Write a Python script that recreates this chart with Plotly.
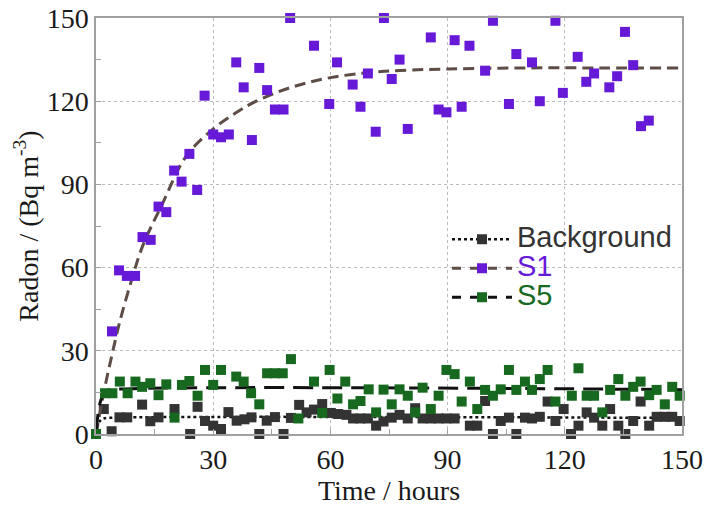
import plotly.graph_objects as go

# ---- data ----
bg_t = [0, 2.0, 4.0, 6.0, 8.0, 11.8, 13.9, 16.0, 20.1, 24.1, 26.0, 27.9, 30.0, 32.0, 33.9,
        36.0, 38.0, 39.8, 41.8, 43.7, 45.8, 48.0, 49.9, 52.0, 53.9, 55.8, 57.9, 60.1, 62.0, 64.1,
        65.8, 67.7, 69.6, 71.7, 73.6, 75.7, 77.7, 79.8, 81.7, 83.6, 85.7, 87.7, 89.7, 91.8, 95.7,
        97.6, 99.6, 101.6, 103.6, 105.7, 107.6, 109.8, 111.6, 113.6, 115.6, 117.6, 119.7, 121.6,
        123.5, 125.6, 127.5, 129.6, 131.6, 133.7, 135.5, 137.5, 139.4, 141.6, 143.5, 145.6,
        147.5, 149.4]
bg_v = [0, 9.0, 1.0, 6.0, 6.0, 10.6, 4.6, 6.0, 9.0, 0, 9.8, 4.7, 3.0, 1.8, 7.9,
        4.8, 5.3, 6.0, 0, 4.8, 6.1, 0, 5.8, 10.5, 7.8, 8.8, 10.8, 7.6, 7.2, 6.9,
        5.6, 5.6, 5.6, 3.0, 4.5, 5.9, 6.9, 5.6, 9.3, 5.6, 5.6, 5.6, 5.6, 5.6, 3.0,
        3.0, 11.9, 0, 4.7, 5.9, 0, 5.9, 5.6, 6.2, 11.7, 4.7, 9.0, 0,
        3.0, 7.8, 5.9, 3.0, 9.0, 3.0, 0, 4.7, 11.7, 3.0, 6.2, 6.2,
        6.2, 4.7]

s1_t = [4.1, 5.9, 7.9, 10.0, 11.9, 14.0, 16.0, 18.0, 20.0, 21.9, 23.9, 25.9, 27.8, 30.0, 32.0,
        34.0, 35.9, 37.8, 39.9, 41.8, 43.8, 45.8, 48.0, 49.7, 55.8, 59.7, 61.7, 65.7, 67.7, 69.6,
        71.6, 73.7, 75.7, 77.7, 79.8, 85.7, 87.7, 89.7, 91.8, 93.6, 95.6, 99.6, 101.6, 105.7,
        107.6, 111.6, 113.6, 117.6, 119.5, 123.3, 125.5, 127.5, 131.4, 133.4, 135.4, 137.5,
        139.5, 141.5]
s1_v = [37, 59, 57, 57, 71, 70, 82, 80, 95, 91, 101, 88, 122, 108, 107,
        108, 134, 125, 106, 132, 124, 117, 117, 150, 140, 119, 134, 126, 118, 130,
        109, 150, 128, 135, 110, 143, 117, 116, 142, 118, 140, 131, 149, 119,
        137, 134, 120, 149, 123, 136, 127, 130, 125, 129, 145, 133,
        111, 113]

s5_t = [0, 2.3, 4.2, 6.1, 8.1, 10.1, 11.8, 13.9, 16.0, 18.0, 20.1, 22.0, 23.9, 26.0, 27.9,
        30.0, 32.0, 35.9, 37.8, 39.7, 41.8, 43.8, 45.8, 47.8, 49.9, 51.8, 55.8, 57.9, 59.8, 61.8,
        63.8, 65.8, 67.7, 69.8, 71.7, 73.6, 75.7, 77.7, 79.8, 81.7, 83.6, 85.7, 87.7, 89.7, 91.8,
        93.6, 95.7, 97.6, 99.6, 101.6, 103.6, 105.7, 107.6, 109.8, 111.6, 113.6, 115.6, 117.6,
        121.8, 123.5, 125.6, 127.5, 129.6, 131.6, 133.7, 135.5, 137.5, 139.4, 141.6, 143.5,
        145.6, 147.5, 149.4]
s5_v = [0, 14.7, 14.7, 18.9, 14.7, 18.9, 17.0, 18.3, 14.0, 17.9, 5.9, 17.7, 19.1, 13.8, 23.1,
        17.7, 23.1, 20.7, 18.9, 14.7, 10.7, 21.9, 21.9, 21.9, 27.0, 5.6, 18.9, 7.6, 23.1, 12.8,
        18.9, 10.7, 11.9, 16.1, 7.8, 16.0, 10.7, 16.1, 13.8, 7.8, 16.7, 9.0, 13.8, 23.1, 21.6,
        11.7, 18.9, 9.0, 15.9, 13.8, 16.1, 23.1, 15.9, 18.9, 15.9, 19.8, 23.1, 11.7,
        13.8, 23.7, 13.8, 13.8, 7.8, 15.9, 19.8, 13.8, 17.0, 18.9, 14.0, 15.9,
        10.7, 17.0, 13.8]

# fitted curves
bg_fit_t = [0, 0.6, 1.2, 2.0, 3.0, 150]
bg_fit_v = [0, 3.5, 5.0, 5.6, 5.8, 5.8]
s1_fit_t = [0, 2, 4, 6, 9, 12, 17, 23, 30, 36, 41, 50, 60, 73, 90, 110, 130, 150]
s1_fit_v = [0, 15, 28, 40, 55, 68, 83, 100, 110, 116, 120, 125, 128.5, 130.7, 131.6, 132, 132, 132]
s5_fit_t = [0, 0.6, 1.2, 2.0, 3.0, 4.0, 150]
s5_fit_v = [0, 8.0, 12.0, 14.5, 15.6, 16.0, 16.0]

x_ticks = [0, 30, 60, 90, 120, 150]
y_ticks = [0, 30, 60, 90, 120, 150]

BG_COL = "#333333"
S1_COL = "#6619d6"
S5_COL = "#16691f"
S1_LINE = "#5e4c47"

BG_DASH = "3px,3px"
S1_DASH = "11px,6px"
S5_DASH = "20px,9px"

fig = go.Figure()

def add(name, t, v, ft, fv, mcol, lcol, dash, lw):
    fig.add_trace(go.Scatter(
        x=ft, y=fv, mode="lines", line=dict(color=lcol, dash=dash, width=lw, shape="spline"),
        legendgroup=name, showlegend=False, hoverinfo="skip"))
    fig.add_trace(go.Scatter(
        x=t, y=v, mode="markers", name=name, legendgroup=name, showlegend=False,
        marker=dict(symbol="square", size=10, color=mcol), cliponaxis=False))

add("Background", bg_t, bg_v, bg_fit_t, bg_fit_v, BG_COL, "#111111", BG_DASH, 2.5)
add("S1", s1_t, s1_v, s1_fit_t, s1_fit_v, S1_COL, S1_LINE, S1_DASH, 3)
add("S5", s5_t, s5_v, s5_fit_t, s5_fit_v, S5_COL, "#111111", S5_DASH, 3)

# legend entries (line + marker)
for name, mcol, lcol, dash, lw in [
        ("Background", BG_COL, "#111111", "dot", 2.5),
        ("S1", S1_COL, S1_LINE, "dash", 3),
        ("S5", S5_COL, "#111111", "dash", 3)]:
    fig.add_trace(go.Scatter(
        x=[None], y=[None], mode="lines+markers",
        name='<span style="color:%s;font-size:29px">%s</span>' % (mcol, name),
        legendgroup=name,
        marker=dict(symbol="square", size=10, color=mcol),
        line=dict(color=lcol, dash=dash, width=lw)))

axis_common = dict(
    range=[0, 150], showgrid=True, gridcolor="#bbbbbb", griddash="dot", gridwidth=1,
    showline=True, linecolor="#a0a0a0", linewidth=1.5, mirror=True,
    ticks="inside", ticklen=5, tickcolor="#a0a0a0",
    minor=dict(dtick=15, ticks="inside", ticklen=5, tickcolor="#a0a0a0", showgrid=False),
    tickfont=dict(family="Liberation Serif", size=28, color="#1a1a1a"),
    zeroline=False, automargin=False,
)

fig.update_layout(
    width=706, height=507,
    margin=dict(l=96, r=24, t=18, b=73),
    plot_bgcolor="white", paper_bgcolor="white",
    xaxis=dict(**axis_common, tickvals=x_ticks,
               title=dict(text="Time / hours", standoff=4,
                          font=dict(family="Liberation Serif", size=28, color="#1a1a1a"))),
    yaxis=dict(**axis_common, tickvals=y_ticks,
               title=dict(text="Radon / (Bq m<sup>-3</sup>)", standoff=0,
                          font=dict(family="Liberation Serif", size=28, color="#1a1a1a"))),
    legend=dict(x=0.599, y=0.515, xanchor="left", yanchor="top",
                bgcolor="rgba(0,0,0,0)", itemwidth=60, tracegroupgap=0,
                font=dict(family="Liberation Sans", size=20, color=BG_COL)),
    showlegend=True,
    hovermode=False,
)

fig.write_html("out.html", config={"displayModeBar": False},
               post_script="document.body.style.margin='0';")
